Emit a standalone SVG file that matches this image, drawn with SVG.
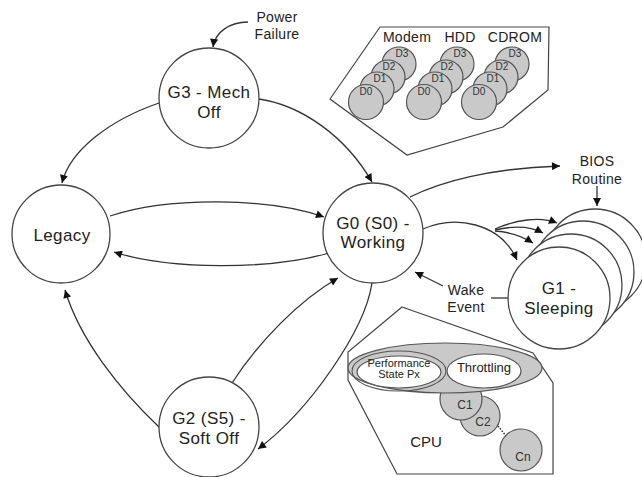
<svg xmlns="http://www.w3.org/2000/svg" width="642" height="477" viewBox="0 0 642 477">
  <style>
    text { font-family: "Liberation Sans", Arial, sans-serif; fill: #222; }
    .node { fill: #fff; stroke: #444; stroke-width: 1.3; }
    .lbl { font-size: 17px; text-anchor: middle; letter-spacing: 0.4px; }
    .note { font-size: 14px; text-anchor: middle; letter-spacing: 0.3px; }
    .conn path, .conn line { fill: none; stroke: #333; stroke-width: 1.3; }
    .arr { marker-end: url(#ah); }
    .box { fill: #fff; stroke: #444; stroke-width: 1.2; }
    .disc { fill: #c9c9c9; stroke: #555; stroke-width: 1.2; }
    .dl { font-size: 10px; text-anchor: middle; fill: #333; }
    .cl { font-size: 12px; text-anchor: middle; fill: #333; }
  </style>
  <defs>
    <marker id="ah" viewBox="0 0 10 10" refX="10" refY="5" markerWidth="10" markerHeight="8" markerUnits="userSpaceOnUse" orient="auto">
      <path d="M0,0 L10,5 L0,10 z" fill="#111"/>
    </marker>
    <g id="devstack">
      <circle class="disc" cx="399" cy="64" r="17"/>
      <text class="dl" x="402" y="57">D3</text>
      <circle class="disc" cx="388" cy="77" r="17"/>
      <text class="dl" x="389" y="70">D2</text>
      <circle class="disc" cx="377" cy="89" r="17"/>
      <text class="dl" x="380" y="82">D1</text>
      <circle class="disc" cx="366" cy="102" r="17.5"/>
      <text class="dl" x="366" y="95">D0</text>
    </g>
  </defs>

  <!-- device power states panel -->
  <g id="devices">
    <polygon class="box" points="380,27 549,27 548,90 503,127 407,155 330,99"/>
    <text class="note" x="407" y="42">Modem</text>
    <text class="note" x="460" y="42">HDD</text>
    <text class="note" x="515" y="42">CDROM</text>
    <use href="#devstack"/>
    <use href="#devstack" x="58"/>
    <use href="#devstack" x="113"/>
  </g>

  <!-- processor states panel -->
  <g id="cpu">
    <polygon class="box" points="402,307 533,353 553,383 553,474 397,474 348,380 348,352"/>
    <circle class="disc" cx="521" cy="450" r="21"/>
    <line x1="498" y1="426" x2="506" y2="436" stroke="#333" stroke-width="1.5" stroke-dasharray="1.5,1.5"/>
    <circle class="disc" cx="480" cy="416" r="20"/>
    <circle class="disc" cx="461" cy="399" r="21"/>
    <ellipse class="disc" cx="445" cy="368" rx="97" ry="25"/>
    <ellipse cx="399" cy="371" rx="47" ry="20" fill="none" stroke="#555" stroke-width="1.1"/>
    <ellipse cx="399" cy="372" rx="42" ry="16" fill="#fff" stroke="#555" stroke-width="1.2"/>
    <ellipse cx="484" cy="371" rx="37" ry="17" fill="#fff" stroke="#555" stroke-width="1.2"/>
    <text x="399" y="367" font-size="11" text-anchor="middle" fill="#333">Performance</text>
    <text x="399" y="378" font-size="11" text-anchor="middle" fill="#333">State Px</text>
    <text x="484" y="372" font-size="13" text-anchor="middle" fill="#333">Throttling</text>
    <text class="cl" x="465" y="409">C1</text>
    <text class="cl" x="483" y="426">C2</text>
    <text class="cl" x="523" y="461">Cn</text>
    <text x="426" y="447" font-size="15" text-anchor="middle">CPU</text>
  </g>

  <!-- transitions -->
  <g class="conn">
    <path class="arr" d="M248,22 C230,22 215,32 213,47"/>
    <path class="arr" d="M159,103 C110,120 70,150 62,183"/>
    <path class="arr" d="M259,99 C300,105 345,135 372,182"/>
    <path class="arr" d="M110,216 C170,196 270,198 324,217"/>
    <path class="arr" d="M329,253 C270,270 170,270 114,252"/>
    <path class="arr" d="M159,427 C120,390 80,340 65,290"/>
    <path class="arr" d="M232,383 C260,340 300,300 338,278"/>
    <path class="arr" d="M372,283 C365,330 310,410 258,449"/>
    <path class="arr" d="M410,197 C440,182 490,168 560,166"/>
    <path class="arr" d="M597,186 L597,206"/>
    <path class="arr" d="M423,229 C455,215 500,222 517,260"/>
    <path class="arr" d="M495,229 C515,220 540,216 557,223"/>
    <path class="arr" d="M495,230 C512,226 530,226 543,233"/>
    <path class="arr" d="M495,231 C510,232 522,236 533,243"/>
    <path class="arr" d="M443,286 L415,272"/>
    <line x1="491" y1="298" x2="508" y2="298"/>
  </g>

  <!-- state nodes -->
  <g id="g3">
    <circle class="node" cx="209" cy="98" r="50"/>
    <text class="lbl" x="209" y="98">G3 - Mech</text>
    <text class="lbl" x="209" y="118">Off</text>
  </g>
  <g id="legacy">
    <circle class="node" cx="61" cy="234" r="49"/>
    <text class="lbl" x="62" y="241">Legacy</text>
  </g>
  <g id="g0">
    <circle class="node" cx="373" cy="233" r="50"/>
    <text class="lbl" x="373" y="229">G0 (S0) -</text>
    <text class="lbl" x="373" y="248">Working</text>
  </g>
  <g id="g2">
    <circle class="node" cx="209" cy="427" r="50"/>
    <text class="lbl" x="209" y="424">G2 (S5) -</text>
    <text class="lbl" x="209" y="444">Soft Off</text>
  </g>
  <g id="g1">
    <circle class="node" cx="595" cy="260" r="51"/>
    <circle class="node" cx="583" cy="272" r="51"/>
    <circle class="node" cx="571" cy="285" r="51"/>
    <circle class="node" cx="559" cy="298" r="51"/>
    <text class="lbl" x="559" y="294">G1 -</text>
    <text class="lbl" x="559" y="314">Sleeping</text>
  </g>

  <!-- annotations -->
  <g id="notes">
    <text class="note" x="277" y="22">Power</text>
    <text class="note" x="277" y="39">Failure</text>
    <text class="note" x="597" y="166">BIOS</text>
    <text class="note" x="597" y="184">Routine</text>
    <text class="note" x="466" y="295">Wake</text>
    <text class="note" x="466" y="312">Event</text>
  </g>
</svg>
